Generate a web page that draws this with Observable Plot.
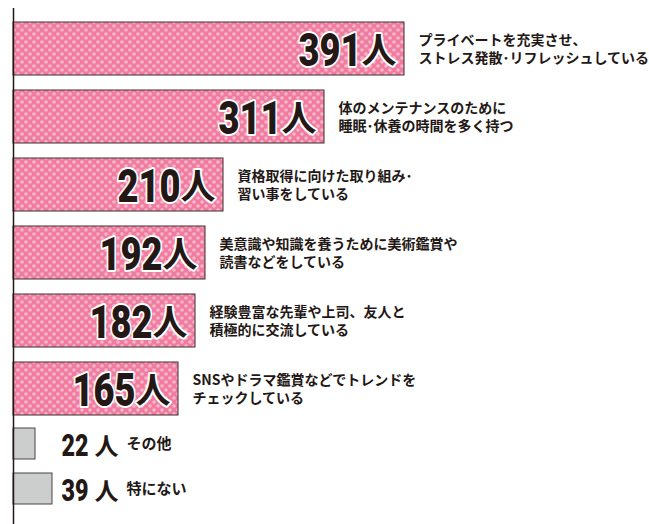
<!DOCTYPE html>
<html><head><meta charset="utf-8">
<script src="https://cdn.jsdelivr.net/npm/d3@7"></script>
<script src="https://cdn.jsdelivr.net/npm/@observablehq/plot@0.6"></script>
<style>body{margin:0;background:#fff}svg{display:block}</style>
</head><body><div id="chart"></div>
<script>
const mainLabels = [
  "プライベートを充実させ、\nストレス発散･リフレッシュしている",
  "体のメンテナンスのために\n睡眠･休養の時間を多く持つ",
  "資格取得に向けた取り組み･\n習い事をしている",
  "美意識や知識を養うために美術鑑賞や\n読書などをしている",
  "経験豊富な先輩や上司、友人と\n積極的に交流している",
  "SNSやドラマ鑑賞などでトレンドを\nチェックしている"
];
const mainValues = [391, 311, 210, 192, 182, 165];
const otherLabels = ["その他", "特にない"];
const otherValues = [22, 39];
const unit = "人";

const main = mainLabels.map((label, i) => ({label, value: mainValues[i]}));
const other = otherLabels.map((label, i) => ({label, value: otherValues[i]}));

const ink = "#231815";
const numFont = "Roboto,'Liberation Sans',sans-serif";
const jpFont = "'Noto Sans CJK JP','Noto Sans',sans-serif";
const xScale = {domain: [0, 636]};

// condense digit glyphs to mimic the narrow display face
function condense(svg, index, perChar) {
  const g = d3.select(svg).selectAll('g[aria-label="text"]').nodes()[index];
  d3.select(g).selectAll("text").each(function() {
    const n = this.textContent.length;
    this.setAttribute("textLength", n * perChar);
    this.setAttribute("lengthAdjust", "spacingAndGlyphs");
  });
}

const p1 = Plot.plot({
  width: 649, height: 423,
  marginLeft: 13, marginRight: 0, marginTop: 8, marginBottom: 0,
  x: {...xScale, axis: null},
  y: {domain: mainLabels, range: [15, 423], paddingInner: 0.22, paddingOuter: 0.11, axis: null},
  marks: [
    Plot.barX(main, {x: "value", y: "label", fill: "url(#dots)", stroke: "#3b2f2f", strokeWidth: 1}),
    Plot.text(main, {x: "value", y: "label", text: d => String(d.value), textAnchor: "end", dx: -43, dy: 2,
      fontSize: 46, fontWeight: 900, fontFamily: numFont, fill: ink, stroke: "white", strokeWidth: 4}),
    Plot.text(main, {x: "value", y: "label", text: () => unit, textAnchor: "end", dx: -8, dy: 3,
      fontSize: 35, fontWeight: "bold", fontFamily: jpFont, fill: ink, stroke: "white", strokeWidth: 4}),
    Plot.text(main, {x: "value", y: "label", text: "label", textAnchor: "start", dx: 14, dy: -1,
      fontSize: 14, fontWeight: "bold", fontFamily: jpFont, lineHeight: 1.28, fill: ink}),
    Plot.ruleX([0], {stroke: ink, strokeWidth: 1.5})
  ]
});
d3.select(p1).insert("defs", ":first-child").html(
  '<pattern id="dots" width="8" height="8" patternUnits="userSpaceOnUse">' +
  '<rect width="8" height="8" fill="#f07ca0"/>' +
  '<circle cx="2" cy="2" r="1.8" fill="#f8b6cc"/><circle cx="6" cy="6" r="1.8" fill="#f8b6cc"/></pattern>');
condense(p1, 0, 21);

const p2 = Plot.plot({
  width: 649, height: 101,
  marginLeft: 13, marginRight: 0, marginTop: 0, marginBottom: 0,
  x: {...xScale, axis: null},
  y: {domain: otherLabels, range: [-2, 88], paddingInner: 0.311, paddingOuter: 0.155, axis: null},
  marks: [
    Plot.barX(other, {x: "value", y: "label", fill: "#cccdcd", stroke: "#4a4444", strokeWidth: 1}),
    Plot.text(other, {y: "label", frameAnchor: "left", text: d => String(d.value), textAnchor: "start", dx: 48, dy: 2,
      fontSize: 32, fontWeight: 900, fontFamily: numFont, fill: ink}),
    Plot.text(other, {y: "label", frameAnchor: "left", text: () => unit, textAnchor: "start", dx: 81, dy: 3,
      fontSize: 24, fontWeight: "bold", fontFamily: jpFont, fill: ink}),
    Plot.text(other, {y: "label", frameAnchor: "left", text: "label", textAnchor: "start", dx: 113, dy: 0,
      fontSize: 15, fontWeight: "bold", fontFamily: jpFont, fill: ink}),
    Plot.ruleX([0], {stroke: ink, strokeWidth: 1.5})
  ]
});
condense(p2, 0, 13.5);

const root = document.getElementById("chart");
root.append(p1, p2);
</script>
</body></html>
